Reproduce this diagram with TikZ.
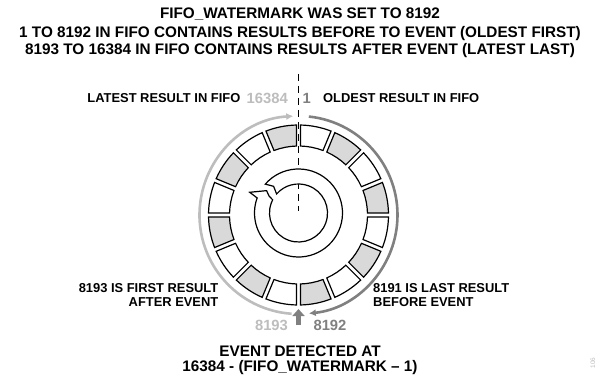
\documentclass[tikz,border=0pt]{standalone}
\usepackage{fontspec}
\setmainfont{Liberation Sans}
\usetikzlibrary{arrows.meta,calc}
\definecolor{lgray}{HTML}{BDBDBD}
\definecolor{dgray}{HTML}{808080}
\definecolor{segfill}{HTML}{D9D9D9}
\begin{document}
\begin{tikzpicture}[x=1pt,y=1pt,
  segline/.style={draw=black,line width=1.2pt,line join=miter},
  lbl/.style={inner sep=0pt,font=\fontsize{12.9}{14}\selectfont\bfseries},
  num/.style={inner sep=0pt,font=\fontsize{14.8}{16}\selectfont\bfseries},
  ttl/.style={inner sep=0pt,anchor=base,font=\fontsize{15.3}{18}\selectfont\bfseries},
  grayarc/.style={line width=2.6pt,-{Latex[length=7pt,width=7pt]}}]
\useasboundingbox (0,0) rectangle (600,381);
% title
\node[ttl] (title1) at (300,362.7) {FIFO\_WATERMARK WAS SET TO 8192};
\node[ttl] (title2) at (300,343.6) {1 TO 8192 IN FIFO CONTAINS RESULTS BEFORE TO EVENT (OLDEST FIRST)};
\node[ttl] (title3) at (300,326) {8193 TO 16384 IN FIFO CONTAINS RESULTS AFTER EVENT (LATEST LAST)};
% dashed line
\coordinate (dtop) at (298.5,307);
\coordinate (dbot) at (298.5,170);
\draw[black,line width=1.6pt,dash pattern=on 7pt off 5pt] (dtop) -- (dbot);
% ring of segments
\begin{scope}[shift={(298.5,166)}]
\foreach \i in {1,...,16}{
  \pgfmathsetmacro\sa{90-22.5*(\i-1)}
  \pgfmathsetmacro\sb{90-22.5*\i}
  \pgfmathsetmacro\oa{\sa-1.3}
  \pgfmathsetmacro\ob{\sb+1.3}
  \pgfmathsetmacro\ia{\sa-1.7}
  \pgfmathsetmacro\ib{\sb+1.7}
  \ifodd\i\relax \def\fc{white}\else\def\fc{segfill}\fi
  \draw[segline,fill=\fc] (\oa:90pt) arc[start angle=\oa,end angle=\ob,radius=90pt]
     -- (\ib:69pt) arc[start angle=\ib,end angle=\ia,radius=69pt] -- cycle;
}
% outer gray arcs
\draw[grayarc,lgray] (266:99pt) arc[start angle=266,end angle=93,radius=99pt];
\draw[grayarc,dgray] (84:99pt) arc[start angle=84,end angle=-84,radius=99pt];
\end{scope}
% inner circular arrow
\begin{scope}[shift={(298.5,168)}]
\draw[segline,fill=white] (139:44pt) arc[start angle=139,end angle=-200,radius=44pt]
  -- (157:53pt) -- (145:39pt) -- (150:34pt) -- (153:29pt) -- (160:29pt)
  arc[start angle=160,end angle=499,radius=29pt] -- (133:36.5pt) -- cycle;
\end{scope}
% event arrow
\coordinate (ebot) at (298.5,56);
\coordinate (etop) at (298.5,72);
\draw[dgray,line width=4.5pt,-{Triangle[length=7pt,width=12pt]}] (ebot) -- (etop);
% labels
\node[lbl,anchor=east] (latest) at (240.5,283) {LATEST RESULT IN FIFO};
\node[num,anchor=east,text=lgray] (n16384) at (288,283) {16384};
\node[num,anchor=west,text=dgray] (one) at (302.5,283) {1};
\node[lbl,anchor=west] (oldest) at (323,283) {OLDEST RESULT IN FIFO};
\node[lbl,anchor=east,align=right] (first) at (218.5,86) {8193 IS FIRST RESULT\\AFTER EVENT};
\node[lbl,anchor=west,align=left] (last) at (373,86) {8191 IS LAST RESULT\\BEFORE EVENT};
\node[num,text=lgray] (n8193) at (271.5,56) {8193};
\node[num,text=dgray] (n8192) at (330,56) {8192};
\node[ttl] (event1) at (300,24.3) {EVENT DETECTED AT};
\node[ttl] (event2) at (300,9.3) {16384 - (FIFO\_WATERMARK -- 1)};
\node[inner sep=0pt,rotate=90,text=lgray,font=\fontsize{6.5}{7}\selectfont] (fig) at (593,18) {106};
\end{tikzpicture}
\end{document}
